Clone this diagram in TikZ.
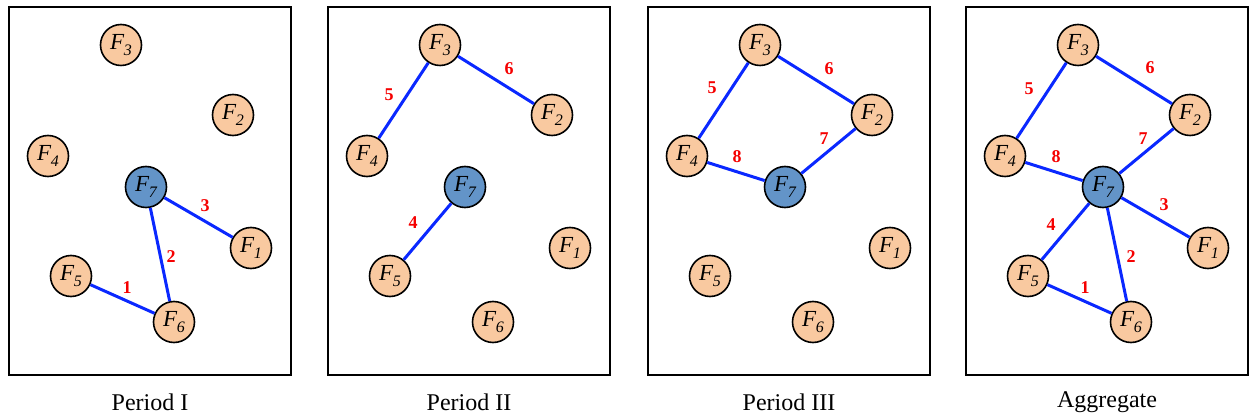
\documentclass[tikz,border=0pt]{standalone}
\usepackage{fontspec}
\setmainfont{Liberation Serif}
\definecolor{nodeor}{RGB}{249,201,160}
\definecolor{nodebl}{RGB}{99,148,200}
\definecolor{edgebl}{RGB}{10,40,255}
\definecolor{lblred}{RGB}{245,0,0}
\newcommand{\fsub}[1]{{\itshape F}\kern-0.3pt\raisebox{-6.5pt}{\fontsize{16}{16}\selectfont\itshape #1}}
\tikzset{
  fnode/.style={circle, draw=black, line width=1.6pt, fill=nodeor, minimum size=41pt, inner sep=0pt, font=\fontsize{23}{23}\selectfont},
  hnode/.style={fnode, fill=nodebl},
  edge/.style={draw=edgebl, line width=3pt},
  elabel/.style={text=lblred, font=\fontsize{18}{18}\selectfont\bfseries, inner sep=0pt},
  frame/.style={draw=black, line width=1.3pt, minimum width=282pt, minimum height=368pt, inner sep=0pt},
  ptitle/.style={font=\fontsize{24}{24}\selectfont, inner sep=0pt}
}
% #1 = panel prefix
\newcommand{\panelnodes}[1]{%
  \node[fnode] (#1F3) at (112,45) {\fsub{3}};
  \node[fnode] (#1F2) at (224,115) {\fsub{2}};
  \node[fnode] (#1F4) at (39,156) {\fsub{4}};
  \node[hnode] (#1F7) at (137,187) {\fsub{7}};
  \node[fnode] (#1F1) at (242,248) {\fsub{1}};
  \node[fnode] (#1F5) at (62,276) {\fsub{5}};
  \node[fnode] (#1F6) at (165,322) {\fsub{6}};
}
\begin{document}
\begin{tikzpicture}[x=1pt,y=-1pt]
\useasboundingbox (0,0) rectangle (1249,419);
% ---------------- Panel 1
\begin{scope}[shift={(9,0)}]
  \node[frame] (b1) at (141,191) {};
  \node[ptitle] (t1) at (141,402) {Period I};
  \panelnodes{a}
  \draw[edge] (aF5) -- (aF6);
  \draw[edge] (aF7) -- (aF6);
  \draw[edge] (aF7) -- (aF1);
  \node[elabel] (a1) at (118,288) {1};
  \node[elabel] (a2) at (162,257) {2};
  \node[elabel] (a3) at (196,206) {3};
\end{scope}
% ---------------- Panel 2
\begin{scope}[shift={(328,0)}]
  \node[frame] (b2) at (141,191) {};
  \node[ptitle] (t2) at (141,402) {Period II};
  \panelnodes{b}
  \draw[edge] (bF3) -- (bF4);
  \draw[edge] (bF3) -- (bF2);
  \draw[edge] (bF7) -- (bF5);
  \node[elabel] (b5) at (61,95) {5};
  \node[elabel] (b6) at (181,69) {6};
  \node[elabel] (b4) at (85,223) {4};
\end{scope}
% ---------------- Panel 3
\begin{scope}[shift={(648,0)}]
  \node[frame] (b3) at (141,191) {};
  \node[ptitle] (t3) at (141,402) {Period III};
  \panelnodes{c}
  \draw[edge] (cF3) -- (cF4);
  \draw[edge] (cF3) -- (cF2);
  \draw[edge] (cF2) -- (cF7);
  \draw[edge] (cF4) -- (cF7);
  \node[elabel] (c5) at (64,88) {5};
  \node[elabel] (c6) at (181,69) {6};
  \node[elabel] (c7) at (176,139) {7};
  \node[elabel] (c8) at (89,157) {8};
\end{scope}
% ---------------- Panel 4
\begin{scope}[shift={(966,0)}]
  \node[frame] (b4) at (141,191) {};
  \node[ptitle] (t4) at (141,402) {Aggregate};
  \panelnodes{d}
  \draw[edge] (dF5) -- (dF6);
  \draw[edge] (dF7) -- (dF6);
  \draw[edge] (dF7) -- (dF1);
  \draw[edge] (dF7) -- (dF5);
  \draw[edge] (dF3) -- (dF4);
  \draw[edge] (dF3) -- (dF2);
  \draw[edge] (dF2) -- (dF7);
  \draw[edge] (dF4) -- (dF7);
  \node[elabel] (d1) at (119,288) {1};
  \node[elabel] (d2) at (165,257) {2};
  \node[elabel] (d3) at (198,205) {3};
  \node[elabel] (d4) at (85,225) {4};
  \node[elabel] (d5) at (63,89) {5};
  \node[elabel] (d6) at (184,68) {6};
  \node[elabel] (d7) at (177,139) {7};
  \node[elabel] (d8) at (90,157) {8};
\end{scope}
\end{tikzpicture}
\end{document}
